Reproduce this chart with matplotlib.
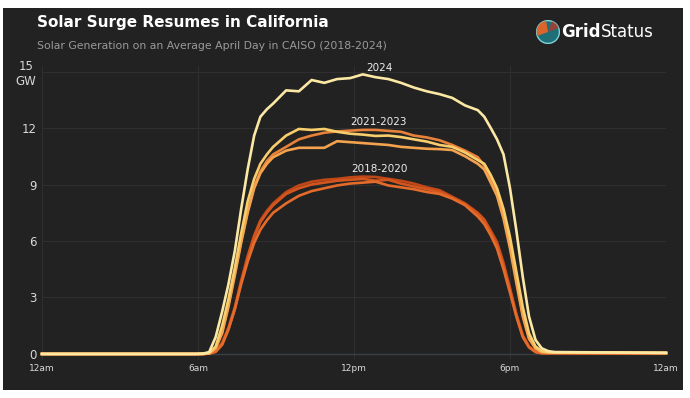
import matplotlib.pyplot as plt
from matplotlib.patches import Rectangle, Circle, Wedge

# hour of day (shared by every year)
hours = [0, 5.94, 6.19, 6.43, 6.68, 6.93, 7.17, 7.42, 7.66, 7.91, 8.16, 8.40,
         8.65, 8.89, 9.39, 9.88, 10.37, 10.86, 11.35, 11.85, 12.34, 12.83,
         13.32, 13.81, 14.30, 14.80, 15.29, 15.78, 16.27, 16.76, 17.01,
         17.26, 17.50, 17.75, 18.0, 18.24, 18.49, 18.73, 18.98, 19.22, 19.47,
         19.72, 24]

# average April solar generation, GW
gen_2018 = [0, 0, 0, 0.02, 0.15, 0.6, 1.4, 2.5, 3.9, 5.2, 6.3, 7.1, 7.6, 8.0,
            8.6, 8.95, 9.15, 9.25, 9.3, 9.38, 9.42, 9.4, 9.3, 9.2, 9.05, 8.85,
            8.7, 8.35, 8.0, 7.5, 7.15, 6.55, 5.95, 4.85, 3.5, 2.15, 1.0, 0.4,
            0.12, 0.05, 0.04, 0.04, 0.03]
gen_2019 = [0, 0, 0, 0.02, 0.12, 0.5, 1.3, 2.4, 3.8, 5.1, 6.2, 7.0, 7.5, 7.9,
            8.5, 8.8, 9.0, 9.1, 9.2, 9.25, 9.3, 9.2, 9.25, 9.05, 8.9, 8.75,
            8.6, 8.3, 7.95, 7.45, 7.1, 6.45, 5.8, 4.7, 3.4, 2.1, 0.95, 0.38,
            0.12, 0.05, 0.04, 0.04, 0.03]
gen_2020 = [0, 0, 0, 0.02, 0.12, 0.5, 1.3, 2.4, 3.7, 4.9, 5.9, 6.6, 7.1, 7.5,
            8.0, 8.4, 8.65, 8.8, 8.95, 9.05, 9.1, 9.15, 8.95, 8.85, 8.75, 8.6,
            8.5, 8.25, 7.9, 7.3, 6.9, 6.3, 5.6, 4.5, 3.25, 2.0, 0.9, 0.35,
            0.1, 0.04, 0.04, 0.04, 0.03]
gen_2021 = [0, 0, 0, 0.03, 0.3, 1.2, 2.6, 4.3, 6.0, 7.6, 8.9, 9.7, 10.25,
            10.6, 11.0, 11.4, 11.6, 11.75, 11.82, 11.86, 11.9, 11.9, 11.85,
            11.8, 11.6, 11.5, 11.35, 11.1, 10.8, 10.45, 10.0, 9.3, 8.6, 7.4,
            5.8, 4.0, 2.1, 0.9, 0.3, 0.12, 0.08, 0.07, 0.05]
gen_2022 = [0, 0, 0, 0.03, 0.3, 1.1, 2.5, 4.2, 5.9, 7.5, 8.8, 9.6, 10.1,
            10.45, 10.8, 10.95, 10.95, 10.95, 11.3, 11.25, 11.2, 11.15, 11.1,
            11.0, 10.95, 10.9, 10.88, 10.83, 10.5, 10.1, 9.8, 9.1, 8.4, 7.2,
            5.6, 3.8, 2.0, 0.8, 0.3, 0.1, 0.08, 0.07, 0.05]
gen_2023 = [0, 0, 0.01, 0.05, 0.4, 1.5, 2.9, 4.6, 6.4, 8.1, 9.3, 10.1, 10.6,
            11.0, 11.6, 11.95, 11.9, 11.95, 11.8, 11.7, 11.65, 11.58, 11.6,
            11.52, 11.4, 11.28, 11.1, 11.0, 10.7, 10.3, 10.1, 9.5, 8.8, 7.7,
            6.2, 4.4, 2.5, 1.1, 0.4, 0.15, 0.09, 0.08, 0.06]
gen_2024 = [0, 0, 0.02, 0.1, 0.9, 2.25, 3.7, 5.5, 7.7, 9.8, 11.6, 12.6, 13.0,
            13.3, 14.0, 13.95, 14.55, 14.4, 14.6, 14.65, 14.85, 14.7, 14.6,
            14.4, 14.15, 13.95, 13.8, 13.6, 13.2, 12.95, 12.6, 12.0, 11.4,
            10.6, 8.8, 6.6, 4.1, 2.0, 0.75, 0.3, 0.15, 0.1, 0.06]

years = ["2018", "2019", "2020", "2021", "2022", "2023", "2024"]
series = [gen_2018, gen_2019, gen_2020, gen_2021, gen_2022, gen_2023, gen_2024]
colors = ["#bf4718", "#d4561f", "#e56b2a", "#e8823a", "#f4a24e", "#f8cd6c",
          "#fbe8a4"]

tick_hours = [0, 6, 12, 18, 24]
tick_names = ["12am", "6am", "12pm", "6pm", "12am"]
y_ticks = [0, 3, 6, 9, 12, 15]
y_names = ["0", "3", "6", "9", "12", "15\nGW"]

group_labels = ["2024", "2021-2023", "2018-2020"]
group_x = [12.96, 12.96, 12.96]
group_y = [15.2, 12.3, 9.83]

bg = "#222222"
fig = plt.figure(figsize=(6.9, 3.98), dpi=100, facecolor="white")
fig.patches.append(Rectangle((3 / 690, 8 / 398), 680 / 690, 382 / 398,
                             transform=fig.transFigure, facecolor=bg,
                             edgecolor="none", zorder=-10))

ax = fig.add_axes([42 / 690, 1 - 359.6 / 398, 624 / 690, 293.7 / 398])
ax.set_facecolor(bg)
ax.patch.set_alpha(0)

for yr, vals, c in zip(years, series, colors):
    ax.plot(hours, vals, color=c, lw=1.9, solid_joinstyle="round",
            label=yr, clip_on=False)

ax.set_xlim(0, 24)
ax.set_ylim(-0.3, 15.3)
ax.set_xticks(tick_hours)
ax.set_xticklabels(tick_names)
ax.set_yticks(y_ticks)
ax.set_yticklabels(y_names, multialignment="center")
ax.tick_params(axis="x", colors="#d8d8d8", labelsize=6.5, length=0, pad=3)
ax.tick_params(axis="y", colors="#d8d8d8", labelsize=8.5, length=0, pad=4)
ax.grid(True, color="#2f2f2f", lw=0.8)
ax.set_axisbelow(True)
for s in ax.spines.values():
    s.set_visible(False)
ax.axhline(0, color="#3a3f44", lw=1, zorder=1)

for lab, x, y in zip(group_labels, group_x, group_y):
    ax.text(x, y, lab, ha="center", va="center", color="#eeeeee",
            fontsize=7.5)

fig.text(37 / 690, 1 - 22 / 398, "Solar Surge Resumes in California",
         color="white", fontsize=11, fontweight="bold", va="center")
fig.text(37 / 690, 1 - 46 / 398,
         "Solar Generation on an Average April Day in CAISO (2018-2024)",
         color="#9a9a9a", fontsize=7.8, va="center")

# logo
lax = fig.add_axes([536 / 690, 1 - 44 / 398, 24 / 690, 24 / 398])
lax.set_xlim(-1, 1)
lax.set_ylim(-1, 1)
lax.set_aspect("equal")
lax.axis("off")
lax.add_patch(Circle((0, 0), 0.95, facecolor="#1f6f78", edgecolor="#7fd3d6",
                     lw=1))
lax.add_patch(Wedge((0, 0), 0.95, 100, 200, facecolor="#d9652c",
                    edgecolor="none"))
lax.add_patch(Wedge((0, 0), 0.95, 20, 70, facecolor="#b03a2a",
                    edgecolor="none", alpha=0.8))
grid_txt = fig.text(561 / 690, 1 - 32 / 398, "Grid", color="white",
                    fontsize=12, fontweight="bold", va="center")
fig.canvas.draw()
bb = grid_txt.get_window_extent()
fig.text(bb.x1 / 690 + 0.5 / 690, 1 - 32 / 398, "Status", color="white",
         fontsize=12, va="center")

fig.savefig("out.png", dpi=100, facecolor="white")
